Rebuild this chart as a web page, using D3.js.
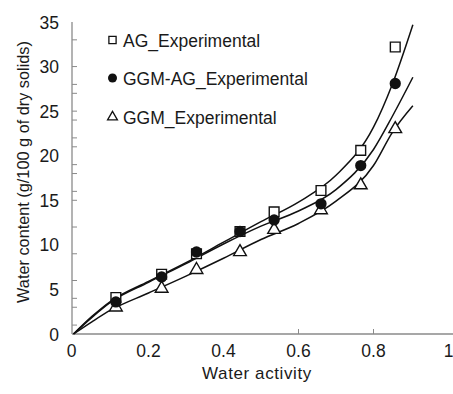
<!DOCTYPE html>
<html><head><meta charset="utf-8">
<script src="https://cdn.jsdelivr.net/npm/d3@7"></script>
<style>body{margin:0;background:#fff}svg{display:block}text{font-family:"Liberation Sans",Arial,sans-serif;fill:#1a1a1a}</style>
</head><body>
<svg id="c" width="453" height="394"></svg>
<script>
// ---- data ----
const awExp = [0.113, 0.235, 0.328, 0.444, 0.535, 0.66, 0.766, 0.858];
const agExp = [4.1, 6.7, 9.0, 11.5, 13.7, 16.1, 20.6, 32.2];
const ggmAgExp = [3.6, 6.4, 9.2, 11.5, 12.8, 14.6, 18.9, 28.1];
const ggmExp = [3.0, 5.1, 7.2, 9.2, 11.7, 13.9, 16.7, 23.0];

const awFit = [0, 0.05, 0.1, 0.2, 0.3, 0.4, 0.5, 0.6, 0.7, 0.8, 0.85, 0.905];
const agFit = [0, 2.0, 3.7, 5.9, 8.0, 10.3, 12.6, 14.8, 17.8, 23.2, 28.0, 34.7];
const ggmAgFit = [0, 1.9, 3.6, 5.8, 7.9, 10.1, 12.1, 13.8, 16.2, 20.7, 24.4, 28.8];
const ggmFit = [0, 1.4, 2.7, 4.6, 6.5, 8.5, 10.6, 12.4, 14.9, 18.9, 22.6, 25.6];

const xTickLabels = [0, 0.2, 0.4, 0.6, 0.8, 1];
const xTickMarks = [0.6, 0.8];
const yTickLabels = [0, 5, 10, 15, 20, 25, 30, 35];
const yTickMarks = [1, 3, 4, 6, 9, 12, 15, 16, 18, 19, 21, 22, 24, 25, 27, 28, 30, 33];
const legendNames = ["AG_Experimental", "GGM-AG_Experimental", "GGM_Experimental"];

// ---- layout ----
const svg = d3.select("#c");
const x = d3.scaleLinear().domain([0, 1]).range([73.5, 448.5]);
const y = d3.scaleLinear().domain([0, 35]).range([334, 22]);
const axisColor = "#8a8a8a";

// axes lines
svg.append("line").attr("x1", 72).attr("x2", 453).attr("y1", y(0)).attr("y2", y(0))
  .attr("stroke", axisColor).attr("stroke-width", 1.3);
svg.append("line").attr("x1", 72).attr("x2", 72).attr("y1", y(0)).attr("y2", y(35))
  .attr("stroke", axisColor).attr("stroke-width", 1.3);

// tick marks
svg.selectAll(".xt").data(xTickMarks).join("line")
  .attr("x1", d => x(d)).attr("x2", d => x(d)).attr("y1", y(0)).attr("y2", y(0) - 5)
  .attr("stroke", axisColor).attr("stroke-width", 1);
svg.selectAll(".yt").data(yTickMarks).join("line")
  .attr("x1", 72).attr("x2", 77).attr("y1", d => y(d)).attr("y2", d => y(d))
  .attr("stroke", axisColor).attr("stroke-width", 1);

// tick labels
svg.selectAll(".xl").data(xTickLabels).join("text")
  .attr("x", d => x(d) - (d === 0 ? 2 : 0)).attr("y", 357).attr("text-anchor", "middle")
  .attr("font-size", 17.5).text(d => d);
svg.selectAll(".yl").data(yTickLabels).join("text")
  .attr("x", 59).attr("y", d => y(d) + 6.5).attr("text-anchor", "end")
  .attr("font-size", 17.5).text(d => d);

// axis titles
svg.append("text").attr("x", 257).attr("y", 379).attr("text-anchor", "middle")
  .attr("font-size", 17).attr("letter-spacing", 0.6).text("Water activity");
svg.append("text").attr("transform", "translate(29,172) rotate(-90)").attr("text-anchor", "middle")
  .attr("font-size", 16.3).text("Water content (g/100 g of dry solids)");

// fitted curves
const line = d3.line().x(d => x(d[0])).y(d => y(d[1])).curve(d3.curveMonotoneX);
[agFit, ggmAgFit, ggmFit].forEach(s => {
  svg.append("path").attr("d", line(awFit.map((a, i) => [a, s[i]])))
    .attr("fill", "none").attr("stroke", "#111").attr("stroke-width", 1.5);
});

// markers
const sym = {
  square: d3.symbol().type(d3.symbolSquare).size(95),
  circle: d3.symbol().type(d3.symbolCircle).size(100),
  triangle: d3.symbol().type(d3.symbolTriangle).size(70)
};
function drawMarkers(vals, kind) {
  svg.append("g").selectAll("path").data(vals).join("path")
    .attr("transform", (d, i) => `translate(${x(awExp[i])},${y(d)})`)
    .attr("d", sym[kind]())
    .attr("fill", kind === "circle" ? "#111" : "#fff")
    .attr("stroke", "#111").attr("stroke-width", kind === "circle" ? 0 : 1.4);
}
drawMarkers(agExp, "square");
drawMarkers(ggmExp, "triangle");
drawMarkers(ggmAgExp, "circle");

// legend
const legY = [40, 78, 117];
const legKinds = ["square", "circle", "triangle"];
const legSizes = {square: 52, circle: 64, triangle: 42};
legendNames.forEach((n, i) => {
  svg.append("path").attr("transform", `translate(112.5,${legY[i]})`)
    .attr("d", d3.symbol().type(legKinds[i] === "square" ? d3.symbolSquare : legKinds[i] === "circle" ? d3.symbolCircle : d3.symbolTriangle).size(legSizes[legKinds[i]])())
    .attr("fill", legKinds[i] === "circle" ? "#111" : "#fff")
    .attr("stroke", "#111").attr("stroke-width", legKinds[i] === "circle" ? 0 : 1.3);
  svg.append("text").attr("x", 123).attr("y", legY[i] + 6.5).attr("font-size", 17.5).text(n);
});
</script>
</body></html>
